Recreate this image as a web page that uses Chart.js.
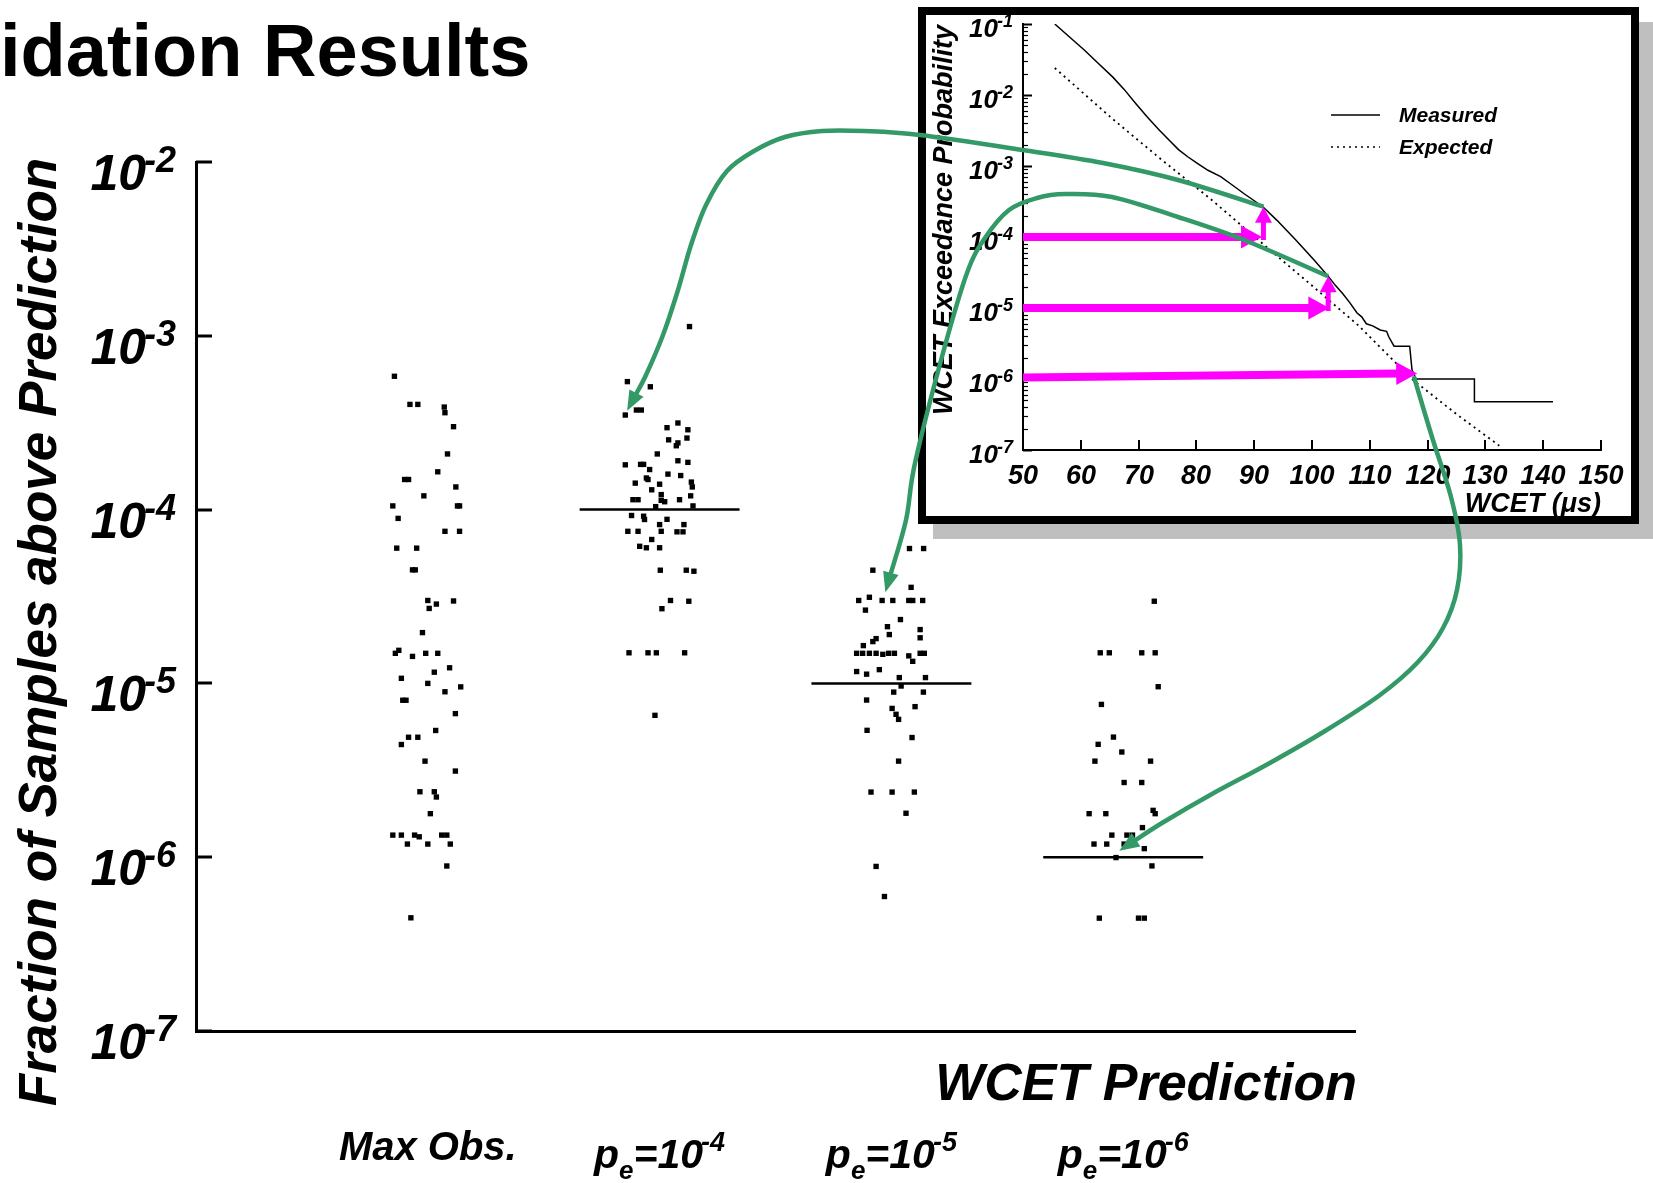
<!DOCTYPE html>
<html><head><meta charset="utf-8">
<script src="https://cdn.jsdelivr.net/npm/chart.js@4.4.1/dist/chart.umd.min.js"></script>
<style>
html,body{margin:0;padding:0;background:#fff;overflow:hidden;}
#wrap{position:relative;width:1653px;height:1183px;}
#main{position:absolute;left:0;top:0;}
#box{position:absolute;left:918px;top:7px;width:721px;height:517px;box-sizing:border-box;border:8px solid #000;background:#fff;box-shadow:15px 15px 0 #bfbfbf;}
#inset{position:absolute;left:0;top:0;}
#overlay{position:absolute;left:0;top:0;pointer-events:none;}
</style></head>
<body><div id="wrap">
<canvas id="main" width="1653" height="1183"></canvas>
<div id="box"><canvas id="inset" width="705" height="501"></canvas></div>
<canvas id="overlay" width="1653" height="1183"></canvas>
</div>
<script>
// ---------- main chart data ----------
const pageTitle = 'idation Results';
const yAxisTitle = 'Fraction of Samples above Prediction';
const xAxisTitle = 'WCET Prediction';
const categories = ['Max Obs.', 'pe=10-4', 'pe=10-5', 'pe=10-6'];
const categoryPos = [1, 2, 3, 4];
const predictionPos = [2, 3, 4];
const predictionLevels = [1e-4, 1e-5, 1e-6];
const yTickExponents = [-2, -3, -4, -5, -6, -7];

const maxObsX = [0.856,0.923,0.957,1.071,1.074,1.111,1.085,1.043,0.900,0.917,1.121,0.983,0.849,1.128,1.137,0.872,1.074,1.137,0.866,0.952,0.934,0.946,1.000,1.006,1.037,1.111,0.977,0.860,0.875,0.934,0.991,1.043,1.094,1.028,0.886,1.000,1.074,1.142,0.892,0.906,1.119,1.034,0.917,0.957,0.886,0.988,1.119,0.966,1.028,1.037,1.011,0.849,0.886,0.943,0.963,0.912,1.000,1.060,1.082,1.097,1.082,0.927];
const maxObsY = [5.85e-4,4.03e-4,4.03e-4,3.89e-4,3.61e-4,3.0e-4,2.09e-4,1.65e-4,1.49e-4,1.49e-4,1.35e-4,1.20e-4,1.05e-4,1.05e-4,1.05e-4,8.9e-5,7.5e-5,7.5e-5,6.0e-5,6.0e-5,4.5e-5,4.5e-5,3.0e-5,2.7e-5,2.86e-5,2.98e-5,1.96e-5,1.49e-5,1.55e-5,1.43e-5,1.49e-5,1.49e-5,1.23e-5,1.16e-5,1.07e-5,1.0e-5,8.95e-6,9.55e-6,8.0e-6,8.0e-6,6.7e-6,5.36e-6,4.9e-6,4.9e-6,4.45e-6,3.57e-6,3.13e-6,2.38e-6,2.38e-6,2.22e-6,1.78e-6,1.34e-6,1.34e-6,1.34e-6,1.31e-6,1.19e-6,1.19e-6,1.34e-6,1.34e-6,1.19e-6,8.9e-7,4.48e-7];

const pe4X = [2.129,1.861,1.960,1.852,1.900,1.921,2.032,2.079,2.122,2.039,2.118,2.072,2.079,1.990,1.852,1.918,1.931,2.079,2.122,1.957,2.036,2.091,1.943,1.950,1.895,2.000,2.137,2.141,1.966,2.007,1.885,1.907,2.007,2.022,2.086,2.134,1.983,2.144,1.879,1.931,1.935,2.032,2.000,2.007,2.105,1.863,1.907,2.075,2.101,1.966,1.914,1.943,2.000,2.003,2.115,2.148,2.047,2.010,2.126,1.868,1.950,1.986,2.108,1.980];
const pe4Y = [1.13e-3,5.45e-4,5.09e-4,3.50e-4,3.74e-4,3.74e-4,2.96e-4,3.15e-4,2.88e-4,2.52e-4,2.58e-4,2.33e-4,2.42e-4,2.09e-4,1.81e-4,1.82e-4,1.82e-4,1.91e-4,1.87e-4,1.70e-4,1.60e-4,1.57e-4,1.52e-4,1.49e-4,1.42e-4,1.40e-4,1.44e-4,1.35e-4,1.30e-4,1.22e-4,1.14e-4,1.14e-4,1.13e-4,1.11e-4,1.14e-4,1.20e-4,1.04e-4,1.05e-4,9.25e-5,9.16e-5,8.77e-5,8.79e-5,8.2e-5,7.5e-5,8.2e-5,7.5e-5,7.5e-5,7.45e-5,7.45e-5,6.73e-5,6.15e-5,6.03e-5,6.03e-5,4.48e-5,4.48e-5,4.42e-5,3.0e-5,2.69e-5,2.97e-5,1.5e-5,1.5e-5,1.5e-5,1.5e-5,6.55e-6];

const pe5X = [3.078,3.139,2.920,3.085,2.859,2.905,2.960,3.006,3.075,3.092,3.135,2.888,3.039,2.983,2.991,3.124,3.124,2.934,2.920,2.879,2.850,2.876,2.905,2.934,2.963,2.988,3.013,3.075,3.092,3.124,3.142,2.850,2.893,2.948,3.034,3.042,3.147,3.010,3.138,2.893,3.003,3.020,3.031,3.102,2.895,3.089,3.031,2.912,3.003,3.099,3.063,2.934,2.970];
const pe5Y = [5.97e-5,5.97e-5,4.48e-5,3.57e-5,3.0e-5,3.13e-5,3.0e-5,3.0e-5,3.0e-5,3.0e-5,3.0e-5,2.64e-5,2.33e-5,2.12e-5,1.91e-5,2.04e-5,1.83e-5,1.81e-5,1.74e-5,1.65e-5,1.49e-5,1.49e-5,1.49e-5,1.49e-5,1.47e-5,1.49e-5,1.49e-5,1.44e-5,1.34e-5,1.49e-5,1.49e-5,1.17e-5,1.13e-5,1.20e-5,1.08e-5,9.66e-6,1.08e-5,8.91e-6,8.91e-6,8.02e-6,7.18e-6,6.64e-6,6.21e-6,7.35e-6,5.37e-6,4.88e-6,3.57e-6,2.37e-6,2.37e-6,2.37e-6,1.79e-6,8.85e-7,5.94e-7];

const pe6X = [4.134,3.901,3.940,4.080,4.138,4.151,3.906,3.958,3.892,3.994,3.878,4.118,4.004,4.080,3.853,3.925,4.129,4.138,4.083,3.951,4.016,4.040,3.874,3.929,4.004,4.091,3.969,4.124,3.897,4.066,4.091];
const pe6Y = [2.97e-5,1.5e-5,1.5e-5,1.5e-5,1.5e-5,9.57e-6,7.57e-6,4.91e-6,4.46e-6,4.03e-6,3.57e-6,3.57e-6,2.69e-6,2.69e-6,1.78e-6,1.78e-6,1.86e-6,1.78e-6,1.48e-6,1.34e-6,1.34e-6,1.34e-6,1.19e-6,1.19e-6,1.19e-6,1.12e-6,9.95e-7,8.91e-7,4.46e-7,4.46e-7,4.46e-7];

// ---------- inset chart data ----------
const insetYTitle = 'WCET Exceedance Probability';
const insetXTitle = 'WCET (\u03bcs)';
const insetLegend = ['Measured', 'Expected'];
const insetXTicks = [50, 60, 70, 80, 90, 100, 110, 120, 130, 140, 150];
const insetYExponents = [-1, -2, -3, -4, -5, -6, -7];
const measuredX = [55.5,58.0,60.6,63.0,65.5,67.5,69.5,71.5,73.6,75.3,76.9,78.5,80.1,82.0,84.2,86.2,88.2,91.5,93.9,97.2,100.4,102.8,104.0,105.3,106.5,107.8,108.6,109.4,110.5,111.8,112.9,113.3,114.2,116.9,117.3,118.0,128.1,128.1,141.7];
const measuredY = [1.0e-1,6.6e-2,4.3e-2,2.8e-2,1.8e-2,1.2e-2,7.6e-3,4.9e-3,3.2e-3,2.3e-3,1.7e-3,1.35e-3,1.1e-3,8.7e-4,7.1e-4,5.4e-4,4.1e-4,2.67e-4,1.73e-4,9.1e-5,4.7e-5,2.8e-5,2.1e-5,1.6e-5,1.2e-5,8.5e-6,7.5e-6,6.0e-6,5.6e-6,4.9e-6,4.7e-6,3.9e-6,2.9e-6,2.9e-6,1.35e-6,1.0e-6,1.0e-6,4.8e-7,4.8e-7];
const expectedX = [55.5,65.5,73.6,82.7,92.7,100.2,108.0,117.4,125.0,132.4];
const expectedY = [2.4e-2,4.6e-3,1.3e-3,3.3e-4,6.6e-5,2.0e-5,5.7e-6,9.8e-7,3.2e-7,1.15e-7];

// magenta arrows (inset data space)
const arrowStartX = [50, 50, 50];
const arrowStartY = [1e-4, 1e-5, 1.05e-6];
const arrowTipX = [91.35, 103.0, 118.2];
const arrowTipY = [1e-4, 1e-5, 1.2e-6];
const riseX = [91.6, 102.8];
const riseFromY = [1e-4, 1e-5];
const riseToY = [2.67e-4, 2.8e-5];

// green links: from inset (data) to main chart (data)
const linkFromX = [91.6, 102.8, 117.6];
const linkFromY = [2.67e-4, 2.8e-5, 1.1e-6];
const linkToX = [1.86, 2.974, 3.983];
const linkToY = [3.7e-4, 3.35e-5, 1.09e-6];
// intermediate path shape of the green links (page pixels, decoration only)
const linkPaths = [
  [[1178,180],[1103,163],[1023,150],[920,135],[864,131],[822,131],[785,137],[754,151],[727,171],[706,205],[691,245],[678,290],[663,335],[646,375]],
  [[1244,240],[1178,217],[1112,197],[1065,194],[1037,198],[1009,210],[985,238],[967,273],[943,353],[915,463],[906,520]],
  [[1432,437],[1451,497],[1460,545],[1457,590],[1443,628],[1418,662],[1380,695],[1325,731],[1268,764],[1212,794],[1162,823]]
];

// ---------- helpers ----------
const FONT = '"Liberation Sans", Arial, Helvetica, sans-serif';
function bi(s) { return 'italic bold ' + s + 'px ' + FONT; }
function pts(xs, ys) { return xs.map((v, i) => ({x: v, y: ys[i]})); }

function drawPow(ctx, base, exp, xRight, baseY, bSize, eSize, eRise, gap) {
  ctx.font = bi(eSize); const ew = ctx.measureText(exp).width;
  ctx.font = bi(bSize); const bw = ctx.measureText(base).width;
  const xb = xRight - ew - bw - gap;
  ctx.textAlign = 'left'; ctx.textBaseline = 'alphabetic';
  ctx.fillText(base, xb, baseY);
  ctx.font = bi(eSize); ctx.fillText(exp, xb + bw + gap, baseY - eRise);
}

function drawCategory(ctx, label, cx, baseY) {
  const m = /^p(e)=10(-?\d+)$/.exec(label);
  ctx.textBaseline = 'alphabetic';
  if (!m) { ctx.font = bi(40); ctx.textAlign = 'center'; ctx.fillText(label, cx, baseY - 8); return; }
  const parts = [{t:'p', s:41, dy:0, g:0}, {t:m[1], s:26, dy:11, g:0}, {t:'=10', s:41, dy:0, g:-2}, {t:m[2], s:27, dy:-17, g:0}];
  let total = 0;
  parts.forEach(p => { ctx.font = bi(p.s); p.w = ctx.measureText(p.t).width; total += p.w + p.g; });
  let x = cx - total / 2;
  ctx.textAlign = 'left';
  parts.forEach(p => { ctx.font = bi(p.s); ctx.fillText(p.t, x, baseY + p.dy); x += p.w + p.g; });
}

function arrow(ctx, x1, y1, x2, y2, shaftW, headL, headW, color) {
  const dx = x2 - x1, dy = y2 - y1, L = Math.hypot(dx, dy);
  const ux = dx / L, uy = dy / L, px = -uy, py = ux;
  const bx = x2 - ux * headL, by = y2 - uy * headL;
  ctx.save();
  ctx.strokeStyle = color; ctx.fillStyle = color; ctx.lineWidth = shaftW; ctx.lineCap = 'butt';
  ctx.beginPath(); ctx.moveTo(x1, y1); ctx.lineTo(bx + ux * 2, by + uy * 2); ctx.stroke();
  ctx.beginPath(); ctx.moveTo(x2, y2);
  ctx.lineTo(bx + px * headW / 2, by + py * headW / 2);
  ctx.lineTo(bx - px * headW / 2, by - py * headW / 2);
  ctx.closePath(); ctx.fill();
  ctx.restore();
}

// ---------- main chart ----------
const mainDecor = {
  id: 'mainDecor',
  afterDraw(chart) {
    const ctx = chart.ctx, a = chart.chartArea, x = chart.scales.x, y = chart.scales.y;
    ctx.save();
    ctx.fillStyle = '#000'; ctx.strokeStyle = '#000';
    ctx.lineWidth = 3;
    yTickExponents.forEach(e => {
      const py = Math.round(y.getPixelForValue(Math.pow(10, e)));
      ctx.beginPath(); ctx.moveTo(a.left, py); ctx.lineTo(a.left + 16, py); ctx.stroke();
      drawPow(ctx, '10', String(e), a.left - 20, py + 28, 50, 36, 18, -2);
    });
    // y title
    ctx.save();
    ctx.translate(56, 632); ctx.rotate(-Math.PI / 2);
    ctx.font = bi(53); ctx.textAlign = 'center'; ctx.textBaseline = 'alphabetic';
    ctx.fillText(yAxisTitle, 0, 0);
    ctx.restore();
    // x title
    ctx.font = bi(52); ctx.textAlign = 'right'; ctx.textBaseline = 'alphabetic';
    ctx.fillText(xAxisTitle, a.right + 2, a.bottom + 69);
    // categories
    categories.forEach((c, i) => drawCategory(ctx, c, x.getPixelForValue(categoryPos[i]), a.bottom + 137));
    // page title
    ctx.font = 'bold 74px ' + FONT; ctx.textAlign = 'left'; ctx.textBaseline = 'alphabetic';
    ctx.fillText(pageTitle, 0, 76);
    ctx.restore();
  }
};

const dotStyle = {type: 'scatter', pointStyle: 'rect', pointRadius: 3.8, pointBorderWidth: 0, backgroundColor: '#000', borderColor: '#000', showLine: false};
const mainDatasets = [
  Object.assign({label: categories[0], data: pts(maxObsX, maxObsY)}, dotStyle),
  Object.assign({label: categories[1], data: pts(pe4X, pe4Y)}, dotStyle),
  Object.assign({label: categories[2], data: pts(pe5X, pe5Y)}, dotStyle),
  Object.assign({label: categories[3], data: pts(pe6X, pe6Y)}, dotStyle)
];
predictionLevels.forEach((lv, i) => {
  mainDatasets.push({
    type: 'scatter', label: 'prediction ' + categories[i + 1], showLine: true,
    data: [{x: predictionPos[i] - 0.345, y: lv}, {x: predictionPos[i] + 0.345, y: lv}],
    borderColor: '#000', borderWidth: 2.5, pointRadius: 0
  });
});

const hiddenAxis = (extra) => Object.assign({
  ticks: {display: false}, grid: {display: false, drawTicks: false},
  border: {display: true, color: '#000', width: 3}, title: {display: false}
}, extra);

const mainChart = new Chart(document.getElementById('main'), {
  type: 'scatter',
  data: {datasets: mainDatasets},
  options: {
    responsive: false, animation: false, events: [],
    layout: {padding: {left: 196, top: 162, right: 298, bottom: 152}},
    plugins: {legend: {display: false}, tooltip: {enabled: false}},
    scales: {
      x: hiddenAxis({type: 'linear', min: 0, max: 5, afterFit: s => { s.height = 0; }}),
      y: hiddenAxis({type: 'logarithmic', min: 1e-7, max: 1e-2, afterFit: s => { s.width = 0; }})
    }
  },
  plugins: [mainDecor]
});

// ---------- inset chart ----------
const insetDecor = {
  id: 'insetDecor',
  afterDraw(chart) {
    const ctx = chart.ctx, a = chart.chartArea, x = chart.scales.x, y = chart.scales.y;
    ctx.save();
    ctx.fillStyle = '#000'; ctx.strokeStyle = '#000';
    ctx.lineWidth = 2;
    insetXTicks.forEach(t => {
      const px = Math.round(x.getPixelForValue(t));
      ctx.beginPath(); ctx.moveTo(px, a.bottom); ctx.lineTo(px, a.bottom - 10); ctx.stroke();
      ctx.font = bi(27); ctx.textAlign = 'center'; ctx.textBaseline = 'alphabetic';
      ctx.fillText(String(t), px, a.bottom + 34);
    });
    insetYExponents.forEach(e => {
      const py = Math.round(y.getPixelForValue(Math.pow(10, e))) + 0.5;
      ctx.lineWidth = 2;
      ctx.beginPath(); ctx.moveTo(a.left, py); ctx.lineTo(a.left + 9, py); ctx.stroke();
      if (e < -1) {
        ctx.lineWidth = 1.2;
        for (let m = 2; m <= 9; m++) {
          const q = Math.round(y.getPixelForValue(m * Math.pow(10, e))) + 0.5;
          ctx.beginPath(); ctx.moveTo(a.left, q); ctx.lineTo(a.left + 5, q); ctx.stroke();
        }
      }
      drawPow(ctx, '10', String(e), a.left - 10, py + 12, 26, 18, 10, -1);
    });
    // y title
    ctx.save();
    ctx.translate(26, 205); ctx.rotate(-Math.PI / 2);
    ctx.font = bi(27); ctx.textAlign = 'center'; ctx.textBaseline = 'alphabetic';
    ctx.fillText(insetYTitle, 0, 0);
    ctx.restore();
    // x title
    ctx.font = bi(27); ctx.textAlign = 'right';
    ctx.fillText(insetXTitle, a.right, a.bottom + 62);
    // legend
    ctx.lineWidth = 1.5;
    ctx.beginPath(); ctx.moveTo(405, 100); ctx.lineTo(454, 100); ctx.stroke();
    ctx.setLineDash([2, 4]);
    ctx.beginPath(); ctx.moveTo(405, 132); ctx.lineTo(454, 132); ctx.stroke();
    ctx.setLineDash([]);
    ctx.font = bi(21); ctx.textAlign = 'left'; ctx.textBaseline = 'middle';
    ctx.fillText(insetLegend[0], 473, 101);
    ctx.fillText(insetLegend[1], 473, 133);
    // magenta arrows
    const mg = '#ff00ff';
    arrowTipX.forEach((tx, i) => {
      arrow(ctx, x.getPixelForValue(arrowStartX[i]), y.getPixelForValue(arrowStartY[i]),
        x.getPixelForValue(tx), y.getPixelForValue(arrowTipY[i]), 8, 21, 23, mg);
    });
    riseX.forEach((rx, i) => {
      const px = x.getPixelForValue(rx);
      arrow(ctx, px, y.getPixelForValue(riseFromY[i]) + 3, px, y.getPixelForValue(riseToY[i]), 5, 16, 17, mg);
    });
    ctx.restore();
  }
};

const insetChart = new Chart(document.getElementById('inset'), {
  type: 'scatter',
  data: {datasets: [
    {label: insetLegend[0], data: pts(measuredX, measuredY), showLine: true, borderColor: '#000', borderWidth: 1.5, pointRadius: 0, tension: 0},
    {label: insetLegend[1], data: pts(expectedX, expectedY), showLine: true, borderColor: '#000', borderWidth: 1.8, borderDash: [2, 4], pointRadius: 0, tension: 0}
  ]},
  options: {
    responsive: false, animation: false, events: [],
    layout: {padding: {left: 97, top: 9, right: 30, bottom: 66}},
    plugins: {legend: {display: false}, tooltip: {enabled: false}},
    scales: {
      x: {type: 'linear', min: 50, max: 150, ticks: {display: false}, grid: {display: false, drawTicks: false},
          border: {display: true, color: '#000', width: 2}, afterFit: s => { s.height = 0; }},
      y: {type: 'logarithmic', min: 1e-7, max: 1e-1, ticks: {display: false}, grid: {display: false, drawTicks: false},
          border: {display: true, color: '#000', width: 2}, afterFit: s => { s.width = 0; }}
    }
  },
  plugins: [insetDecor]
});

// ---------- green link arrows (overlay) ----------
function drawLinks() {
  const ov = document.getElementById('overlay');
  const ctx = ov.getContext('2d');
  ctx.clearRect(0, 0, ov.width, ov.height);
  const wr = document.getElementById('wrap').getBoundingClientRect();
  const ir = document.getElementById('inset').getBoundingClientRect();
  const mr = document.getElementById('main').getBoundingClientRect();
  const ix = insetChart.scales.x, iy = insetChart.scales.y;
  const mx = mainChart.scales.x, my = mainChart.scales.y;
  const green = '#339966';
  linkFromX.forEach((fx, i) => {
    const start = [ir.left - wr.left + ix.getPixelForValue(fx), ir.top - wr.top + iy.getPixelForValue(linkFromY[i])];
    const tip = [mr.left - wr.left + mx.getPixelForValue(linkToX[i]), mr.top - wr.top + my.getPixelForValue(linkToY[i])];
    const mid = linkPaths[i];
    const last = mid[mid.length - 1];
    let dx = tip[0] - last[0], dy = tip[1] - last[1];
    const L = Math.hypot(dx, dy); dx /= L; dy /= L;
    const headL = 20, headW = 16;
    const base = [tip[0] - dx * headL * 0.8, tip[1] - dy * headL * 0.8];
    const P = [start].concat(mid).concat([base]);
    ctx.save();
    ctx.strokeStyle = green; ctx.fillStyle = green; ctx.lineWidth = 4.5; ctx.lineCap = 'butt'; ctx.lineJoin = 'round';
    ctx.beginPath(); ctx.moveTo(P[0][0], P[0][1]);
    for (let k = 0; k < P.length - 1; k++) {
      const p0 = P[Math.max(k - 1, 0)], p1 = P[k], p2 = P[k + 1], p3 = P[Math.min(k + 2, P.length - 1)];
      ctx.bezierCurveTo(p1[0] + (p2[0] - p0[0]) / 6, p1[1] + (p2[1] - p0[1]) / 6,
                        p2[0] - (p3[0] - p1[0]) / 6, p2[1] - (p3[1] - p1[1]) / 6, p2[0], p2[1]);
    }
    ctx.stroke();
    const bx = tip[0] - dx * headL, by = tip[1] - dy * headL, px = -dy, py = dx;
    ctx.beginPath(); ctx.moveTo(tip[0], tip[1]);
    ctx.lineTo(bx + px * headW / 2, by + py * headW / 2);
    ctx.lineTo(bx - px * headW / 2, by - py * headW / 2);
    ctx.closePath(); ctx.fill();
    ctx.restore();
  });
}
drawLinks();
</script></body></html>
